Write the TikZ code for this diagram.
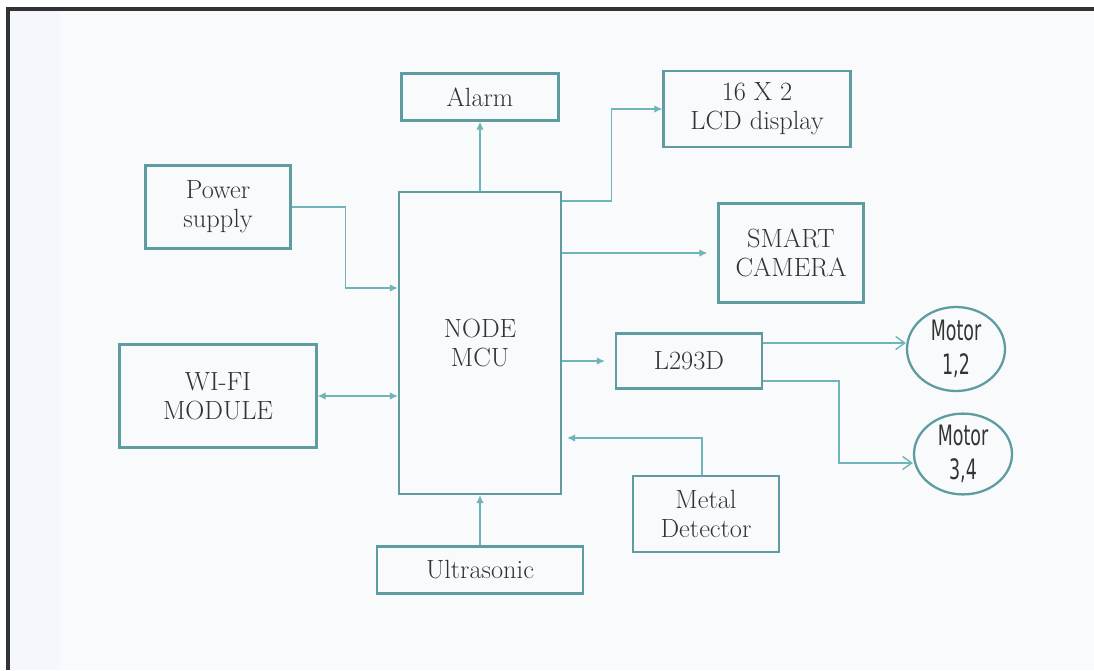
\documentclass[tikz,border=0pt]{standalone}
\usepackage{fontspec}
\newfontfamily\motorfont[FakeStretch=0.62]{DejaVu Sans}
\usetikzlibrary{arrows.meta,shapes.geometric}
\definecolor{boxline}{HTML}{5E9C9F}
\definecolor{wire}{HTML}{6FB4B8}
\definecolor{inktext}{HTML}{333333}
\definecolor{paper}{HTML}{F8FAFC}
\definecolor{paperstrip}{HTML}{F4F7FB}
\begin{document}
\begin{tikzpicture}[x=0.02cm, y=-0.02cm,
		block/.style={draw=boxline, line width=1.3pt, fill=paper, text=inktext, align=center, inner sep=0pt,
			font=\fontsize{15}{16.5}\selectfont},
		motor/.style={ellipse, draw=boxline, line width=1.3pt, fill=paper, text=inktext, align=center, inner sep=0pt,
			minimum width=1.96cm, font=\motorfont\fontsize{16}{19}\selectfont},
		link/.style={draw=wire, line width=0.8pt, -{Latex[length=1.6mm, width=1.5mm]}},
		motorlink/.style={draw=wire, line width=0.8pt, -{Straight Barb[length=1.8mm, width=2.6mm]}}]
		\useasboundingbox (0,0) rectangle (1094,670);
		\fill[white] (0,0) rectangle (1094,670);
		\fill[paper] (8,9) rectangle (1094,670);
		\fill[paperstrip] (10,11) rectangle (60,670);
		\draw[line width=2pt, color=inktext] (8,670) -- (8,9) -- (1094,9);

		\node[block, minimum width=3.24cm, minimum height=6.04cm] (mcu) at (480,343) {NODE\\MCU};
		\node[block, minimum width=3.14cm, minimum height=0.94cm] (alarm) at (480,97) {Alarm};
		\node[block, minimum width=3.74cm, minimum height=1.52cm] (lcd) at (757,109) {16 X 2\\LCD display};
		\node[block, minimum width=2.90cm, minimum height=1.66cm] (power) at (218,207) {Power\\supply};
		\node[block, minimum width=2.90cm, minimum height=1.98cm] (camera) at (791,253) {SMART\\CAMERA};
		\node[block, minimum width=3.94cm, minimum height=2.06cm] (wifi) at (218,396) {WI-FI\\MODULE};
		\node[block, minimum width=2.92cm, minimum height=1.10cm] (driver) at (689,361) {L293D};
		\node[block, minimum width=2.92cm, minimum height=1.52cm] (metal) at (706,514) {Metal\\Detector};
		\node[block, minimum width=4.12cm, minimum height=0.94cm] (ultra) at (480,570) {Ultrasonic};
		\node[motor, minimum height=1.68cm] (motorA) at (956,349) {Motor\\1,2};
		\node[motor, minimum height=1.40cm] (motorB) at (963,454) {Motor\\3,4};

		\draw[link] (mcu.north) -- (alarm.south);
		\draw[link] ([yshift=-0.2cm]mcu.north east) -| ([xshift=-1.02cm]lcd.west) -- (lcd.west);
		\draw[link, shorten >=0.2cm] (mcu.east |- camera.west) -- (camera.west);
		\draw[link] (power.east) -- ++(1.08cm,0) |- ([yshift=1.1cm]mcu.west);
		\draw[link, {Latex[length=1.6mm, width=1.5mm]}-{Latex[length=1.6mm, width=1.5mm]}] (wifi.east) -- (mcu.west |- wifi.east);
		\draw[link, shorten >=0.2cm] (mcu.east |- driver.west) -- (driver.west);
		\draw[motorlink] ([yshift=0.36cm]driver.east) -- ([yshift=0.36cm]driver.east -| motorA.west);
		\draw[motorlink] ([yshift=-0.4cm]driver.east) -- ++(1.52cm,0) |- ([yshift=-0.18cm]motorB.west);
		\draw[link, shorten >=0.1cm] ([xshift=-0.08cm]metal.north) |- ([yshift=-1.9cm]mcu.east);
		\draw[link] (ultra.north) -- (mcu.south);
	\end{tikzpicture}
\end{document}
